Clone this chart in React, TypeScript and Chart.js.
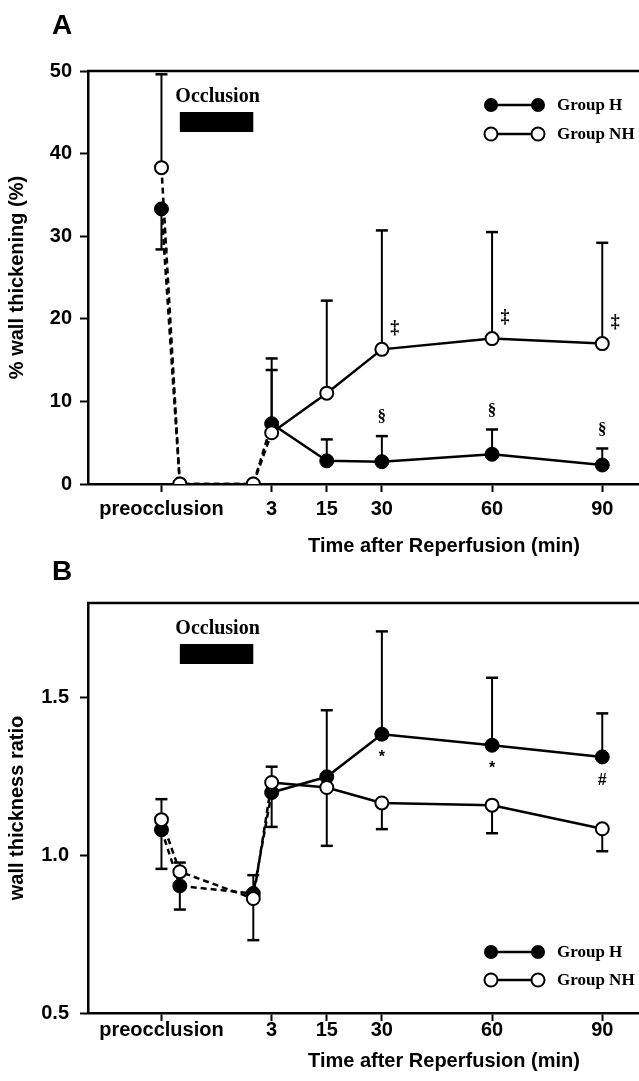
import React, { useEffect, useRef } from 'react';
import { Chart, registerables } from 'chart.js';

Chart.register(...registerables);

// ---------- shared x layout ----------
const xPositions = [-30, -25, -5, 0, 15, 30, 60, 90];
const xTickValues = [-30, 0, 15, 30, 60, 90];
const xTickLabels = ['preocclusion', '3', '15', '30', '60', '90'];
const occlusionSpan = [-25, -5];
const seriesLabels = ['Group H', 'Group NH'];
const xTitleText = 'Time after Reperfusion (min)';

// ---------- panel A : % wall thickening ----------
const aGroupH = [33.3, 0, 0, 7.3, 2.8, 2.7, 3.6, 2.3];
const aGroupNH = [38.3, 0, 0, 6.2, 11.0, 16.3, 17.6, 17.0];
const aErrEndH = [28.4, null, null, 13.8, 5.4, 5.8, 6.6, 4.3];
const aErrEndNH = [49.6, null, null, 15.2, 22.2, 30.7, 30.5, 29.2];
const aMarksH = ['', '', '', '', '', '§', '§', '§'];
const aMarksNH = ['', '', '', '', '', '‡', '‡', '‡'];
const aYTicks = [0, 10, 20, 30, 40, 50];
const aYTickLabels = ['0', '10', '20', '30', '40', '50'];

// ---------- panel B : wall thickness ratio ----------
const bGroupH = [1.081, 0.903, 0.879, 1.199, 1.249, 1.384, 1.349, 1.312];
const bGroupNH = [1.113, 0.948, 0.863, 1.231, 1.215, 1.166, 1.159, 1.084];
const bErrEndH = [0.957, 0.828, 0.937, 1.09, 1.46, 1.71, 1.563, 1.45];
const bErrEndNH = [1.178, 0.977, 0.731, 1.281, 1.03, 1.083, 1.07, 1.013];
const bMarksH = ['', '', '', '', '', '*', '*', '#'];
const bMarksNH = ['', '', '', '', '', '', '', ''];
const bYTicks = [0.5, 1.0, 1.5];
const bYTickLabels = ['0.5', '1.0', '1.5'];

const SANS = '"Liberation Sans", Arial, sans-serif';
const SERIF = '"Liberation Serif", "Times New Roman", serif';

type PanelCfg = {
  letter: string;
  yTitle: string;
  yMin: number;
  yMax: number;
  yTicks: number[];
  yTickLabels: string[];
  h: number[];
  nh: number[];
  errH: (number | null)[];
  errNH: (number | null)[];
  marksH: string[];
  marksNH: string[];
  markMode: 'A' | 'B';
  canvasTop: number;
  canvasHeight: number;
  padTop: number;
  xTickPadding: number;
  yTickPadding: number;
  letterBaseline: number;
  xTitleBaseline: number;
  legendRows: number[];
};

const panelA: PanelCfg = {
  letter: 'A',
  yTitle: '% wall thickening (%)',
  yMin: 0,
  yMax: 50,
  yTicks: aYTicks,
  yTickLabels: aYTickLabels,
  h: aGroupH,
  nh: aGroupNH,
  errH: aErrEndH,
  errNH: aErrEndNH,
  marksH: aMarksH,
  marksNH: aMarksNH,
  markMode: 'A',
  canvasTop: 0,
  canvasHeight: 600,
  padTop: 71,
  xTickPadding: 5,
  yTickPadding: 8,
  letterBaseline: 34,
  xTitleBaseline: 552,
  legendRows: [105, 134],
};

const panelB: PanelCfg = {
  letter: 'B',
  yTitle: 'wall thickness ratio',
  yMin: 0.5,
  yMax: 1.8,
  yTicks: bYTicks,
  yTickLabels: bYTickLabels,
  h: bGroupH,
  nh: bGroupNH,
  errH: bErrEndH,
  errNH: bErrEndNH,
  marksH: bMarksH,
  marksNH: bMarksNH,
  markMode: 'B',
  canvasTop: 545,
  canvasHeight: 536,
  padTop: 58,
  xTickPadding: -3,
  yTickPadding: 11,
  letterBaseline: 35,
  xTitleBaseline: 522,
  legendRows: [407, 435],
};

const WIDTH = 639;
const CHART_BOTTOM_A = 484;

function buildConfig(cfg: PanelCfg): any {
  const chartBottom = cfg.canvasTop === 0 ? CHART_BOTTOM_A : 1013 - cfg.canvasTop;
  const xAxisHeight = cfg.canvasHeight - chartBottom;
  const dash = (c: any) => (c.p0DataIndex < 3 ? [6, 4] : undefined);

  const decor = {
    id: 'decor' + cfg.letter,
    beforeDatasetsDraw(chart: any) {
      const ctx = chart.ctx;
      const xs = chart.scales.x;
      const ys = chart.scales.y;
      ctx.save();
      ctx.strokeStyle = '#000';
      const groups = [
        { vals: cfg.h, ends: cfg.errH },
        { vals: cfg.nh, ends: cfg.errNH },
      ];
      groups.forEach((g) => {
        g.vals.forEach((v, i) => {
          const e = g.ends[i];
          if (e === null || e === undefined) return;
          const px = xs.getPixelForValue(xPositions[i]);
          const py = ys.getPixelForValue(v);
          const pe = ys.getPixelForValue(e);
          ctx.lineWidth = 2;
          ctx.beginPath();
          ctx.moveTo(px, py);
          ctx.lineTo(px, pe);
          ctx.stroke();
          ctx.lineWidth = 2.5;
          ctx.beginPath();
          ctx.moveTo(px - 6, pe);
          ctx.lineTo(px + 6, pe);
          ctx.stroke();
        });
      });
      ctx.restore();
    },
    afterDraw(chart: any) {
      const ctx = chart.ctx;
      const xs = chart.scales.x;
      const ys = chart.scales.y;
      const area = chart.chartArea;
      ctx.save();
      ctx.fillStyle = '#000';
      ctx.strokeStyle = '#000';

      // top frame line
      ctx.lineWidth = 2.5;
      ctx.beginPath();
      ctx.moveTo(area.left - 1, area.top);
      ctx.lineTo(area.right, area.top);
      ctx.stroke();

      // Occlusion label and bar
      const ox0 = xs.getPixelForValue(occlusionSpan[0]);
      const ox1 = xs.getPixelForValue(occlusionSpan[1]);
      ctx.font = `bold 20px ${SERIF}`;
      ctx.textAlign = 'center';
      ctx.textBaseline = 'alphabetic';
      ctx.fillText('Occlusion', (ox0 + ox1) / 2 + 1, area.top + 31);
      ctx.fillRect(ox0, area.top + 41, ox1 - ox0, 20);

      // significance marks
      cfg.h.forEach((v, i) => {
        const px = xs.getPixelForValue(xPositions[i]);
        const mh = cfg.marksH[i];
        if (mh) {
          if (cfg.markMode === 'A') {
            const cap = ys.getPixelForValue(cfg.errH[i] as number);
            ctx.font = `bold 17px ${SERIF}`;
            ctx.textBaseline = 'middle';
            ctx.fillText(mh, px, cap - 19);
          } else {
            const py = ys.getPixelForValue(v);
            ctx.font = `bold 16px ${SANS}`;
            ctx.textBaseline = 'alphabetic';
            ctx.fillText(mh, px, py + 28);
          }
        }
        const mn = cfg.marksNH[i];
        if (mn) {
          const py = ys.getPixelForValue(cfg.nh[i]);
          ctx.font = `bold 18px ${SERIF}`;
          ctx.textBaseline = 'middle';
          ctx.fillText(mn, px + 13, py - 21);
        }
      });

      // legend
      const lx0 = area.right - 148;
      const lx1 = area.right - 101;
      cfg.legendRows.forEach((ry, k) => {
        ctx.lineWidth = 2.5;
        ctx.beginPath();
        ctx.moveTo(lx0, ry);
        ctx.lineTo(lx1, ry);
        ctx.stroke();
        [lx0, lx1].forEach((cx) => {
          ctx.beginPath();
          if (k === 0) {
            ctx.arc(cx, ry, 7, 0, Math.PI * 2);
            ctx.fill();
          } else {
            ctx.arc(cx, ry, 6.5, 0, Math.PI * 2);
            ctx.fillStyle = '#fff';
            ctx.fill();
            ctx.lineWidth = 2;
            ctx.stroke();
            ctx.fillStyle = '#000';
          }
        });
        ctx.font = `bold 17px ${SERIF}`;
        ctx.textAlign = 'left';
        ctx.textBaseline = 'middle';
        ctx.fillText(seriesLabels[k], area.right - 82, ry + 1);
      });

      // x title
      ctx.font = `bold 20px ${SANS}`;
      ctx.textAlign = 'center';
      ctx.textBaseline = 'alphabetic';
      ctx.fillText(xTitleText, 444, cfg.xTitleBaseline);

      // panel letter
      ctx.font = `bold 28px ${SANS}`;
      ctx.textAlign = 'left';
      ctx.fillText(cfg.letter, 52, cfg.letterBaseline);
      ctx.restore();
    },
  };

  const common = {
    borderColor: '#000',
    borderWidth: 2.5,
    pointBorderColor: '#000',
    tension: 0,
    segment: { borderDash: dash },
  };

  return {
    type: 'line',
    data: {
      datasets: [
        {
          ...common,
          label: seriesLabels[1],
          data: xPositions.map((x, i) => ({ x, y: cfg.nh[i] })),
          pointRadius: 6.5,
          pointBorderWidth: 2,
          pointBackgroundColor: '#fff',
          order: 0,
        },
        {
          ...common,
          label: seriesLabels[0],
          data: xPositions.map((x, i) => ({ x, y: cfg.h[i] })),
          pointRadius: 7,
          pointBorderWidth: 1,
          pointBackgroundColor: '#000',
          order: 1,
        },
      ],
    },
    options: {
      responsive: false,
      animation: false,
      devicePixelRatio: 1,
      layout: { autoPadding: false, padding: { top: cfg.padTop, left: 0, right: 0, bottom: 0 } },
      plugins: { legend: { display: false }, tooltip: { enabled: false } },
      scales: {
        x: {
          type: 'linear',
          min: -50,
          max: 100,
          afterBuildTicks: (s: any) => {
            s.ticks = xTickValues.map((v) => ({ value: v }));
          },
          afterFit: (s: any) => {
            s.height = xAxisHeight;
            s.paddingRight = 0;
            s.paddingLeft = 0;
          },
          border: { display: true, color: '#000', width: 2.5 },
          grid: {
            display: true,
            drawOnChartArea: false,
            drawTicks: true,
            tickLength: 8,
            tickWidth: 2,
            tickColor: '#000',
            color: '#000',
          },
          ticks: {
            autoSkip: false,
            maxRotation: 0,
            minRotation: 0,
            padding: cfg.xTickPadding,
            color: '#000',
            font: { family: SANS, weight: 'bold', size: 20 },
            callback: (_v: any, i: number) => xTickLabels[i],
          },
        },
        y: {
          type: 'linear',
          min: cfg.yMin,
          max: cfg.yMax,
          afterBuildTicks: (s: any) => {
            s.ticks = cfg.yTicks.map((v) => ({ value: v }));
          },
          afterFit: (s: any) => {
            s.width = 88;
          },
          border: { display: true, color: '#000', width: 2.5 },
          grid: {
            display: true,
            drawOnChartArea: false,
            drawTicks: true,
            tickLength: 8,
            tickWidth: 2,
            tickColor: '#000',
            color: '#000',
          },
          ticks: {
            padding: cfg.yTickPadding,
            color: '#000',
            font: { family: SANS, weight: 'bold', size: 20 },
            callback: (_v: any, i: number) => cfg.yTickLabels[i],
          },
          title: {
            display: true,
            text: cfg.yTitle,
            color: '#000',
            font: { family: SANS, weight: 'bold', size: 20 },
            padding: { top: 5, bottom: 0 },
          },
        },
      },
    },
    plugins: [decor],
  };
}

function Panel({ cfg }: { cfg: PanelCfg }) {
  const ref = useRef<HTMLCanvasElement>(null);
  useEffect(() => {
    const chart = new Chart(ref.current as HTMLCanvasElement, buildConfig(cfg));
    return () => chart.destroy();
  }, [cfg]);
  return (
    <canvas
      ref={ref}
      width={WIDTH}
      height={cfg.canvasHeight}
      style={{
        position: 'absolute',
        left: 0,
        top: cfg.canvasTop,
        width: WIDTH,
        height: cfg.canvasHeight,
      }}
    />
  );
}

export default function App() {
  return (
    <div
      style={{
        position: 'absolute',
        left: 0,
        top: 0,
        width: WIDTH,
        height: 1081,
        background: '#fff',
        overflow: 'hidden',
      }}
    >
      <Panel cfg={panelA} />
      <Panel cfg={panelB} />
    </div>
  );
}
